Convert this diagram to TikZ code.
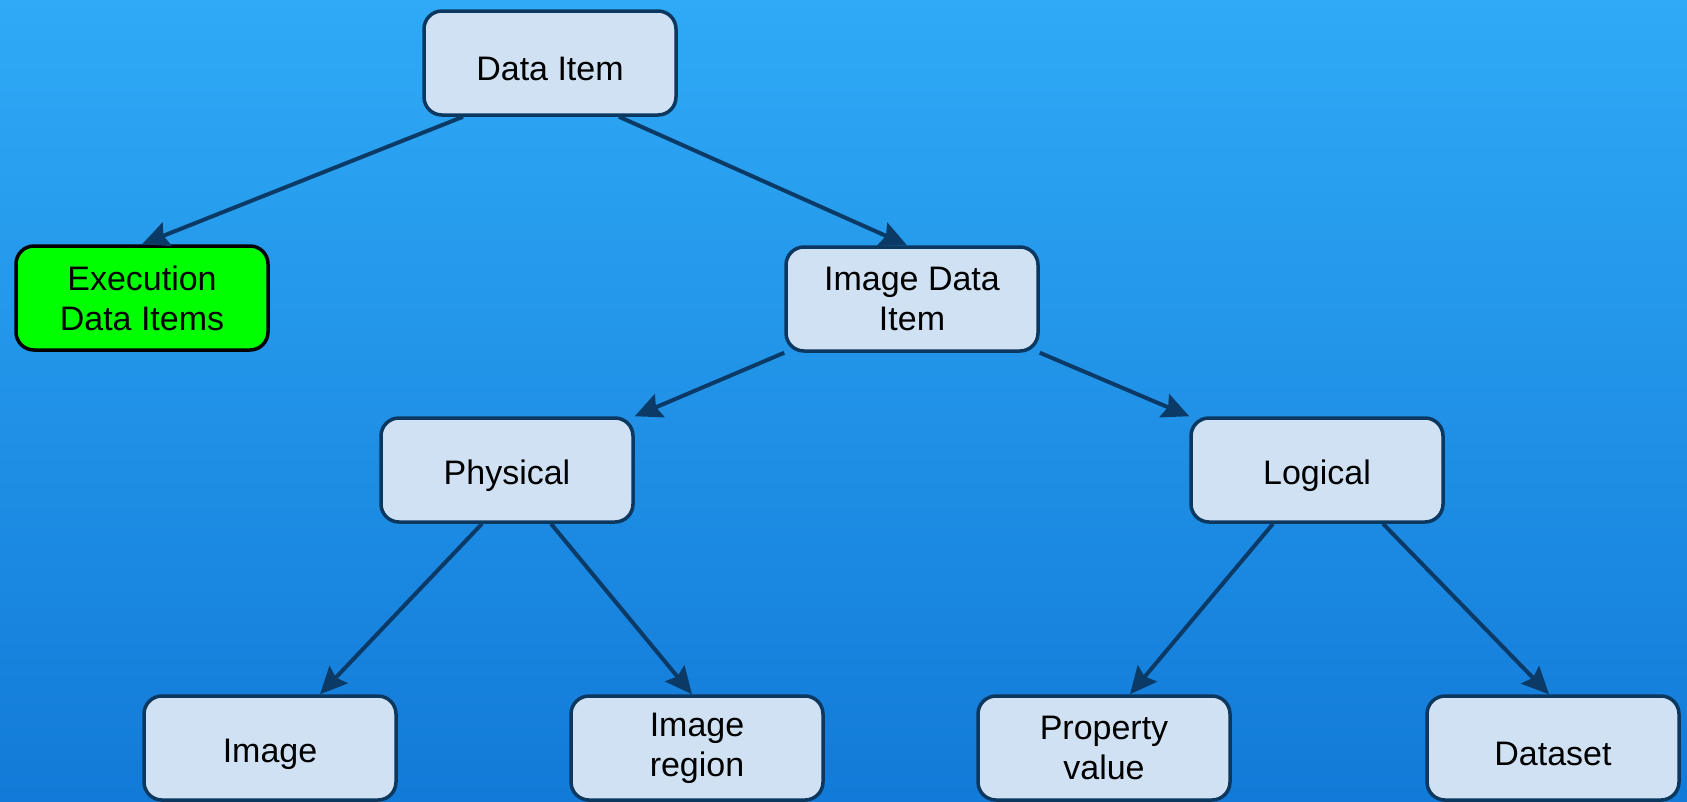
\documentclass[tikz,border=0pt]{standalone}
\usepackage{fontspec}
\setmainfont{Liberation Sans}
\usetikzlibrary{arrows.meta}

\definecolor{bgtop}{RGB}{47,170,246}
\definecolor{bgbottom}{RGB}{18,122,216}
\definecolor{boxfill}{RGB}{207,225,242}
\definecolor{boxline}{RGB}{12,55,95}
\definecolor{execgreen}{RGB}{0,255,0}
\definecolor{linkblue}{RGB}{12,58,102}

\begin{document}
\begin{tikzpicture}[x=1pt, y=-1pt,
    box/.style={draw=boxline, fill=boxfill, line width=3.5pt, rounded corners=18pt,
        minimum width=252pt, minimum height=104pt, align=center,
        font=\fontsize{34}{40}\selectfont,
        execute at begin node={\rule{0pt}{36pt}}},
    execbox/.style={box, draw=black},
    link/.style={draw=linkblue, line width=4pt,
        -{Stealth[length=27pt, width=25pt, inset=4pt]}}]
    % Background
    \clip (0,0) rectangle (1687,801);
    \shade[top color=bgtop, bottom color=bgbottom] (0,0) rectangle (1687,801);

    % Top of the tree
    \node[box] (dataitem) at (550,63) {Data Item};

    % Second row
    \node[execbox, fill=execgreen] (execitems) at (142,298) {Execution\\Data Items};
    \node[box] (imageitem) at (912,299) {Image Data\\Item};

    % Third row
    \node[box] (physical) at (507,470) {Physical};
    \node[box] (logical) at (1317,470) {Logical};

    % Bottom row (cut by the edge)
    \node[box] (image) at (270,748) {Image};
    \node[box] (region) at (697,748) {Image\\region};
    \node[box] (propvalue) at (1104,748) {Property\\value};
    \node[box] (dataset) at (1553,748) {Dataset};

    % Arrows
    \draw[link] ([xshift=-87pt]dataitem.south) -- (execitems.north);
    \draw[link] ([xshift=69pt]dataitem.south) -- ([xshift=-5pt]imageitem.north);
    \draw[link] (imageitem.south west) -- (physical.north east);
    \draw[link] (imageitem.south east) -- (logical.north west);
    \draw[link] ([xshift=-25pt]physical.south) -- ([xshift=50pt]image.north);
    \draw[link] ([xshift=44pt]physical.south) -- ([xshift=-5pt]region.north);
    \draw[link] ([xshift=-44pt]logical.south) -- ([xshift=26pt]propvalue.north);
    \draw[link] ([xshift=66pt]logical.south) -- ([xshift=-4pt]dataset.north);
\end{tikzpicture}
\end{document}
